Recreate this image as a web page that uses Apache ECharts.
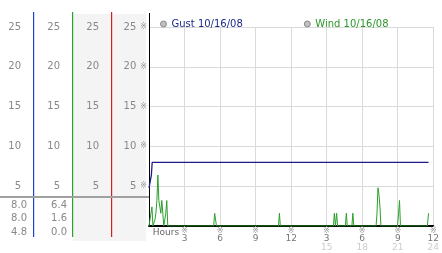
<!DOCTYPE html>
<html><head><meta charset="utf-8">
<script src="https://cdn.jsdelivr.net/npm/echarts@6/dist/echarts.min.js"></script>
<style>html,body{margin:0;padding:0;background:#fff}#c{width:442px;height:253px}</style>
</head><body><div id="c"></div>
<script>
const seriesNames = ['Gust 10/16/08', 'Wind 10/16/08'];
const gustHours  = [0, 0.2, 0.27, 23.6];
const gustSpeeds = [4.8, 6.4, 8.0, 8.0];
const windHours = [0, 0.083, 0.167, 0.25, 0.333, 0.417, 0.5, 0.583, 0.667, 0.75, 0.833, 0.917, 1.0, 1.083, 1.167, 1.25, 1.333, 1.417, 1.5, 1.583,
  5.46, 5.54, 5.62, 5.70,
  10.93, 11.01, 11.09,
  15.57, 15.65, 15.74, 15.84, 15.92,
  16.58, 16.66, 16.74,
  17.13, 17.21, 17.29,
  19.17, 19.25, 19.33, 19.41, 19.50, 19.58,
  20.98, 21.07, 21.15, 21.23,
  23.50, 23.60];
const windSpeeds = [0, 0.8, 1.6, 2.4, 0, 0, 0.8, 1.6, 3.2, 6.4, 3.2, 2.4, 1.6, 3.2, 1.6, 0, 0, 1.6, 3.2, 0,
  0, 1.6, 1.6, 0,
  0, 1.6, 0,
  0, 1.6, 0, 1.6, 0,
  0, 1.6, 0,
  0, 1.6, 0,
  0, 1.6, 4.8, 4.0, 2.4, 0,
  0, 1.6, 3.2, 0,
  0, 1.6];
const xTickHours = [0, 3, 6, 9, 12, 15, 18, 21, 24];
const xTickLabels = ['Hours', '3', '6', '9', '12', '3', '6', '9', '12'];
const xTickLabels24 = ['', '', '', '', '', '15', '18', '21', '24'];
const yTickValues = [5, 10, 15, 20, 25];

const FONT = 'DejaVu Sans';
function stats(arr){ return [Math.max(...arr), arr[arr.length-1], Math.min(...arr)].map(v => v.toFixed(1)); }
const gustStats = stats(gustSpeeds);
const windStats = stats(windSpeeds);

const gustData = gustHours.map((h, i) => [h, gustSpeeds[i]]);
const windData = windHours.map((h, i) => [h, windSpeeds[i]]);

const yLabel = v => yTickValues.includes(v) ? String(v) : '';

function sideAxis(offset){
  return {
    type: 'value', min: 0, max: 25, interval: 5, position: 'left', offset: offset,
    axisLine: {show: false}, axisTick: {show: false}, splitLine: {show: false},
    axisLabel: {margin: 12, color: '#888', fontSize: 10, fontFamily: FONT, formatter: yLabel}
  };
}

const graphics = [
  {type: 'rect', z: -100, shape: {x: 73, y: 14, width: 73, height: 227}, style: {fill: '#f4f4f4'}},
  {type: 'rect', z: 10, shape: {x: 33, y: 12, width: 1.2, height: 225}, style: {fill: '#1f44c8'}},
  {type: 'rect', z: 10, shape: {x: 72, y: 12, width: 1.2, height: 225}, style: {fill: '#2aa52a'}},
  {type: 'rect', z: 10, shape: {x: 111, y: 12, width: 1.2, height: 225}, style: {fill: '#d02020'}},
  {type: 'rect', z: 11, shape: {x: 0, y: 196, width: 149, height: 2}, style: {fill: '#a0a0a0'}},
  {type: 'rect', z: 10, shape: {x: 149, y: 13, width: 1, height: 14}, style: {fill: '#000'}}
];
const rowY = [205, 218.5, 232];
[gustStats, windStats].forEach((col, ci) => {
  col.forEach((t, ri) => {
    graphics.push({type: 'text', x: ci === 0 ? 27 : 67, y: rowY[ri],
      style: {text: t, fill: '#888', font: '10px "DejaVu Sans"', textAlign: 'right', textVerticalAlign: 'middle'}});
  });
});

const chart = echarts.init(document.getElementById('c'), null, {renderer: 'canvas'});
chart.setOption({
  animation: false,
  backgroundColor: '#fff',
  grid: {left: 149, right: 2.5, top: 27, bottom: 27, containLabel: false},
  legend: {
    left: 155, top: 14, itemWidth: 6, itemHeight: 6, itemGap: 61, icon: 'circle',
    textStyle: {fontFamily: FONT, fontSize: 10},
    data: [
      {name: seriesNames[0], itemStyle: {color: '#c0c0c0', borderColor: '#8a8a8a', borderWidth: 1}, textStyle: {color: '#1d2a8a'}},
      {name: seriesNames[1], itemStyle: {color: '#c0c0c0', borderColor: '#8a8a8a', borderWidth: 1}, textStyle: {color: '#2a962a'}}
    ]
  },
  xAxis: {
    type: 'value', min: 0, max: 24, interval: 3,
    axisLine: {show: true, lineStyle: {color: '#000', width: 2}},
    axisTick: {show: false},
    splitLine: {show: true, lineStyle: {color: '#dadada', width: 1}},
    axisLabel: {
      margin: 1, showMinLabel: true, showMaxLabel: true,
      formatter: v => {
        const i = xTickHours.indexOf(v);
        if (i < 0) return '';
        if (i === 0) return '{h|' + xTickLabels[0] + '}';
        let s = '{m|※}\n{a|' + xTickLabels[i] + '}';
        if (xTickLabels24[i]) s += '\n{b|' + xTickLabels24[i] + '}';
        return s;
      },
      rich: {
        h: {fontSize: 9, fontFamily: FONT, color: '#666', lineHeight: 11, padding: [0, 0, 0, 34]},
        m: {fontSize: 8, fontFamily: FONT, color: '#999', lineHeight: 7},
        a: {fontSize: 9, fontFamily: FONT, color: '#777', lineHeight: 9},
        b: {fontSize: 9, fontFamily: FONT, color: '#ccc', lineHeight: 9}
      }
    }
  },
  yAxis: [
    {
      type: 'value', min: 0, max: 25, interval: 5,
      axisLine: {show: true, lineStyle: {color: '#000', width: 1}},
      axisTick: {show: false},
      splitLine: {show: true, lineStyle: {color: '#dadada', width: 1}},
      axisLabel: {
        margin: 2,
        formatter: v => yTickValues.includes(v) ? '{v|' + v + '}{s| }{m|※}' : '',
        rich: {
          v: {fontSize: 10, fontFamily: FONT, color: '#888'},
          s: {fontSize: 10, fontFamily: FONT, width: 4},
          m: {fontSize: 8, fontFamily: FONT, color: '#999'}
        }
      }
    },
    sideAxis(38), sideAxis(77), sideAxis(116)
  ],
  series: [
    {name: seriesNames[0], type: 'line', data: gustData, showSymbol: false, symbol: 'none',
      lineStyle: {color: '#1c1c88', width: 1.3}, itemStyle: {color: '#1c1c88'}, z: 3},
    {name: seriesNames[1], type: 'line', data: windData, showSymbol: false, symbol: 'none',
      lineStyle: {color: '#2aa02a', width: 1}, itemStyle: {color: '#2aa02a'}, z: 4}
  ],
  graphic: graphics
});
</script></body></html>
